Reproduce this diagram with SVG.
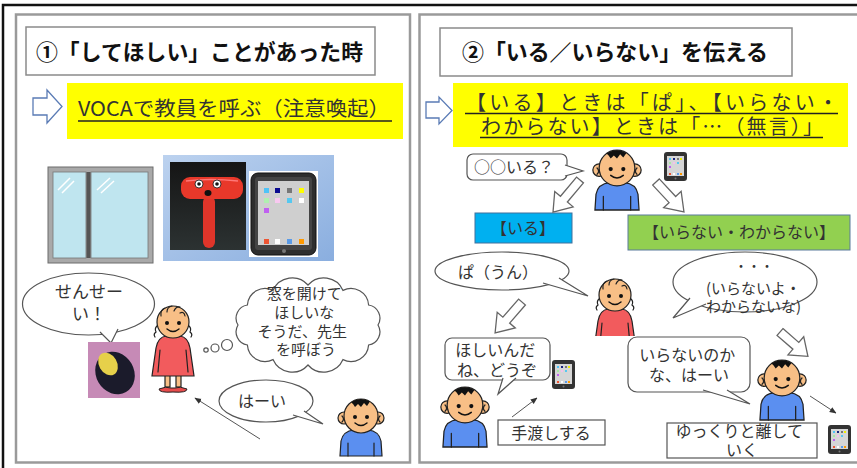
<svg xmlns="http://www.w3.org/2000/svg" xmlns:xlink="http://www.w3.org/1999/xlink" width="857" height="468" viewBox="0 0 857 468">
  <style>
    .jp { font-family: "Noto Sans CJK JP", "Noto Sans", sans-serif; fill: #333; }
    .ttl { font-family: "Noto Sans CJK JP", "Noto Sans", sans-serif; font-weight: bold; font-size: 22px; fill: #111; }
    .panel { fill: #fff; stroke: #9a9a9a; stroke-width: 2.5; }
    .titlebox { fill: #fff; stroke: #8a8a8a; stroke-width: 1.5; }
    .bubble { fill: #fff; stroke: #555; stroke-width: 1.2; }
    .hollow { fill: #fff; stroke: #666; stroke-width: 1.3; }
    .blockarrow { fill: #fff; stroke: #5a7bb5; stroke-width: 1.3; }
    .skin { fill: #f8bf86; stroke: #222; stroke-width: 1.2; }
    .ink { fill: none; stroke: #222; stroke-width: 1.2; stroke-linecap: round; }
    .thin { fill: none; stroke: #555; stroke-width: 1; }
    .uline { stroke: #222; stroke-width: 1.4; }
  </style>
  <defs>
    <marker id="tip" viewBox="0 0 10 10" refX="9" refY="5" markerWidth="7" markerHeight="7" orient="auto">
      <path d="M0,1 L10,5 L0,9 Z" fill="#333"/>
    </marker>
    <linearGradient id="bluebg" x1="0" y1="0" x2="1" y2="1">
      <stop offset="0" stop-color="#bcd2ef"/>
      <stop offset="1" stop-color="#8aaedf"/>
    </linearGradient>
    <linearGradient id="photo" x1="0" y1="0" x2="0" y2="1">
      <stop offset="0" stop-color="#151515"/>
      <stop offset="1" stop-color="#2c3232"/>
    </linearGradient>
    <clipPath id="bust"><rect x="-30" y="-30" width="60" height="71"/></clipPath>

    <!-- boy figure, origin at head centre -->
    <g id="boy">
      <path d="M-21,40 L-20,25 Q-18,15 -7,14 L7,14 Q18,15 20,25 L21,40 Z" fill="#5b8ff0" stroke="#222" stroke-width="1.2"/>
      <path class="ink" d="M-13,27 V40 M13,27 V40"/>
      <circle cx="-17" cy="2" r="6" class="skin"/>
      <circle cx="17" cy="2" r="6" class="skin"/>
      <path class="ink" d="M-19,0 Q-16,3 -19,6 M19,0 Q16,3 19,6"/>
      <circle r="17" class="skin"/>
      <path d="M-10,-13.7 A17,17 0 0 1 9,-14.4 L6,-10 L3,-13 L0,-9 L-3,-12 L-6,-9 L-8,-12 Z" fill="#111"/>
      <circle cx="-6" cy="1" r="2" fill="#111"/>
      <circle cx="6" cy="1" r="2" fill="#111"/>
      <path d="M-6,7 Q0,12 6,7" fill="none" stroke="#111" stroke-width="1.4" stroke-linecap="round"/>
    </g>

    <!-- girl head and dress, origin at head centre -->
    <g id="girl">
      <path d="M-7,14 L7,14 Q15,15 17,26 L21,54 L-21,54 L-17,26 Q-15,15 -7,14 Z" fill="#f25b5d" stroke="#222" stroke-width="1.2"/>
      <path class="ink" d="M-13,28 L-15,50 M13,28 L15,50"/>
      <path class="ink" d="M-15,3 q-4,3 -2,7 q-3,2 -1,5 M15,3 q4,3 2,7 q3,2 1,5"/>
      <circle r="16" class="skin"/>
      <path class="ink" d="M-12,-6 q-1,-6 4,-8 M-6,-10 q0,-5 5,-6 M1,-11 q2,-5 6,-4 M7,-9 q4,-2 5,3"/>
      <circle cx="-6" cy="1" r="2" fill="#111"/>
      <circle cx="6" cy="1" r="2" fill="#111"/>
      <path d="M-6,7 Q0,12 6,7" fill="none" stroke="#111" stroke-width="1.4" stroke-linecap="round"/>
    </g>

    <!-- small tablet, origin at top-left -->
    <g id="tab">
      <rect width="23" height="29" rx="3" fill="#333"/>
      <rect x="3" y="4" width="17" height="20" fill="#d6d6d6"/>
      <rect x="5" y="6" width="2" height="2" fill="#4fc3f7"/>
      <rect x="9" y="6" width="2" height="2" fill="#1a237e"/>
      <rect x="13" y="6" width="2" height="2" fill="#777"/>
      <rect x="16" y="6" width="2" height="2" fill="#ee0"/>
      <rect x="5" y="10" width="2" height="2" fill="#a5e6a5"/>
      <rect x="9" y="10" width="2" height="2" fill="#f4c0ec"/>
      <rect x="13" y="10" width="2" height="2" fill="#55c8f0"/>
      <rect x="5" y="14" width="2" height="2" fill="#c060f0"/>
      <rect x="5" y="21" width="2" height="2" fill="#e53"/>
      <rect x="9" y="21" width="2" height="2" fill="#fff"/>
      <rect x="13" y="21" width="2" height="2" fill="#5a9be8"/>
      <rect x="16" y="21" width="2" height="2" fill="#f90"/>
      <circle cx="11.5" cy="26.5" r="1" fill="#777"/>
    </g>
  </defs>

  <rect width="857" height="468" fill="#fff"/>
  <!-- outer frame -->
  <path d="M3,468 V5 H857" fill="none" stroke="#111" stroke-width="2.5"/>

  <!-- panels -->
  <rect id="panel-1" class="panel" x="16" y="14.5" width="394" height="448"/>
  <rect id="panel-2" class="panel" x="419.5" y="14.5" width="460" height="448"/>

  <!-- ===== panel 1 ===== -->
  <g id="title-1">
    <rect class="titlebox" x="26" y="27" width="349" height="48"/>
    <text class="ttl" x="36" y="60" textLength="327" lengthAdjust="spacingAndGlyphs">①「してほしい」ことがあった時</text>
  </g>

  <g id="note-1">
    <path class="blockarrow" d="M33,98 H47 V90 L62,106.5 L47,123 V115 H33 Z"/>
    <rect x="67" y="83" width="336" height="56" fill="#ffff00"/>
    <text class="jp" x="78" y="116" font-size="20" fill="#222" textLength="312" lengthAdjust="spacingAndGlyphs">VOCAで教員を呼ぶ（注意喚起）</text>
    <line class="uline" x1="78" y1="121" x2="392" y2="121"/>
  </g>

  <g id="window">
    <rect x="48" y="167" width="105" height="96" fill="#a9a9a9" stroke="#6d6d6d" stroke-width="1"/>
    <rect x="53" y="172" width="33" height="86" fill="#bfe5ef" stroke="#777" stroke-width="0.8"/>
    <rect x="91" y="172" width="57" height="86" fill="#bfe5ef" stroke="#777" stroke-width="0.8"/>
    <rect x="86.5" y="172" width="4" height="86" fill="#555"/>
    <path d="M58,190 L70,178 M62,193 L74,181 M97,190 L110,178 M101,193 L114,181" stroke="#fff" stroke-width="1.5"/>
  </g>

  <g id="devices">
    <rect x="163" y="155" width="171" height="106" fill="url(#bluebg)"/>
    <g id="hammer">
      <rect x="170" y="162" width="76" height="88" fill="url(#photo)"/>
      <rect x="203" y="196" width="12" height="52" rx="6" fill="#e0352a"/>
      <rect x="181" y="177" width="62" height="22" rx="9" fill="#e8382a"/>
      <path d="M186,181 Q210,178 238,181" stroke="#f77" stroke-width="1.5" fill="none"/>
      <circle cx="199" cy="184" r="4" fill="#fff" stroke="#111" stroke-width="0.8"/>
      <circle cx="217" cy="184" r="4" fill="#fff" stroke="#111" stroke-width="0.8"/>
      <circle cx="199" cy="184" r="1.8" fill="#111"/>
      <circle cx="217" cy="184" r="1.8" fill="#111"/>
      <ellipse cx="208" cy="193" rx="3.5" ry="3" fill="#111"/>
    </g>
    <g id="ipad">
      <rect x="249" y="171" width="69" height="86" fill="#fff"/>
      <rect x="251" y="173" width="65" height="82" rx="7" fill="#2e2e2e" stroke="#111"/>
      <rect x="255" y="177" width="57" height="73" rx="3" fill="#444"/>
      <rect x="258" y="181" width="51" height="64" fill="#cfcfcf"/>
      <circle cx="284" cy="251" r="2" fill="#777"/>
      <g>
        <rect x="264" y="188" width="5" height="5" fill="#4fc3f7"/>
        <rect x="275" y="188" width="5" height="5" fill="#0a0a90"/>
        <rect x="287" y="188" width="5" height="5" fill="#777"/>
        <rect x="299" y="188" width="5" height="5" fill="#ffff00"/>
        <rect x="264" y="198" width="5" height="5" fill="#b0f0b0"/>
        <rect x="275" y="198" width="5" height="5" fill="#f8c8f0"/>
        <rect x="287" y="198" width="5" height="5" fill="#55c8f0"/>
        <rect x="299" y="198" width="5" height="5" fill="#fff"/>
        <rect x="264" y="208" width="5" height="5" fill="#c060f0"/>
        <rect x="264" y="239" width="5" height="5" fill="#e53"/>
        <rect x="275" y="239" width="5" height="5" fill="#fff"/>
        <rect x="287" y="239" width="5" height="5" fill="#5a9be8"/>
        <rect x="299" y="239" width="5" height="5" fill="#f90"/>
      </g>
    </g>
  </g>

  <g id="bubble-sensei">
    <ellipse class="bubble" cx="88.5" cy="304" rx="66" ry="31"/>
    <path class="bubble" d="M100,332 L111,343 L118,329"/>
    <text class="jp" x="89" y="298" font-size="17" text-anchor="middle">せんせー</text>
    <text class="jp" x="89" y="320" font-size="17" text-anchor="middle">い！</text>
  </g>

  <g id="voca-button">
    <rect x="88" y="342" width="52" height="56" fill="#c68ab6"/>
    <ellipse cx="115" cy="373" rx="19" ry="22" transform="rotate(-30 115 373)" fill="#1b1b2b"/>
    <ellipse cx="108" cy="364" rx="9" ry="12" transform="rotate(-30 108 364)" fill="#e6d04a"/>
  </g>

  <g id="girl-1">
    <rect x="165" y="375" width="5" height="12" class="skin"/>
    <rect x="176" y="375" width="5" height="12" class="skin"/>
    <use xlink:href="#girl" transform="translate(173 322)"/>
    <path d="M159,389 Q166,386 171,388 L175,388 Q180,386 187,389 Q187,393 173,392 Q159,393 159,389 Z" fill="#e84c4c" stroke="#222" stroke-width="1"/>
  </g>

  <g id="thought">
    <circle cx="206" cy="350" r="2.2" class="bubble"/>
    <circle cx="215" cy="348" r="4" class="bubble"/>
    <circle cx="227" cy="345" r="5.5" class="bubble"/>
    <path class="bubble" d="M378,325 A13.3,13.3 0 0 1 368.6,345 A17.7,17.7 0 0 1 343,359.6 A21,21 0 0 1 308,365 A21,21 0 0 1 273,359.6 A17.7,17.7 0 0 1 247.4,345 A13.3,13.3 0 0 1 238,325 A13.3,13.3 0 0 1 247.4,305 A17.7,17.7 0 0 1 273,290.4 A21,21 0 0 1 308,285 A21,21 0 0 1 343,290.4 A17.7,17.7 0 0 1 368.6,305 A13.3,13.3 0 0 1 378,325 Z"/>
    <text class="jp" font-size="15" text-anchor="middle">
      <tspan x="306" y="299">窓を開けて</tspan>
      <tspan x="306" y="318">ほしいな</tspan>
      <tspan x="304" y="337">そうだ、先生</tspan>
      <tspan x="306" y="355">を呼ぼう</tspan>
    </text>
  </g>

  <g id="bubble-haai">
    <ellipse class="bubble" cx="266" cy="401" rx="47" ry="21"/>
    <path class="bubble" d="M293,415 L323,424 L304,411"/>
    <text class="jp" x="262" y="407" font-size="16" text-anchor="middle">はーい</text>
  </g>

  <g id="teacher-1">
    <use xlink:href="#boy" transform="translate(361 416)"/>
  </g>

  <!-- ===== panel 2 ===== -->
  <g id="title-2">
    <rect class="titlebox" x="440" y="28" width="352" height="48"/>
    <text class="ttl" x="462" y="60" textLength="306" lengthAdjust="spacingAndGlyphs">②「いる／いらない」を伝える</text>
  </g>

  <g id="note-2">
    <path class="blockarrow" d="M426,102 H439 V97 L452,110.5 L439,124 V118 H426 Z"/>
    <rect x="453" y="83" width="395" height="64" fill="#ffff00"/>
    <text class="jp" x="466" y="110" font-size="20" textLength="372" fill="#222">【いる】ときは「ぱ」、【いらない・</text>
    <text class="jp" x="481" y="134" font-size="20" textLength="342" fill="#222">わからない】ときは「…（無言）」</text>
    <line class="uline" x1="465" y1="113.5" x2="838" y2="113.5"/>
    <line class="uline" x1="480" y1="137.5" x2="823" y2="137.5"/>
  </g>

  <g id="bubble-iru-q">
    <rect class="bubble" x="467" y="154" width="100" height="26" rx="6"/>
    <path class="bubble" d="M565,165 L583,171 L565,176"/>
    <text class="jp" x="514" y="173" font-size="16" text-anchor="middle">○○いる？</text>
  </g>

  <g id="teacher-2">
    <use xlink:href="#boy" transform="translate(617 168) scale(1.05)"/>
  </g>
  <g id="tablet-2"><use xlink:href="#tab" x="664" y="152"/></g>

  <g id="box-iru">
    <rect x="475" y="213" width="97" height="30" fill="#00b0f0" stroke="#41719c" stroke-width="1"/>
    <text class="jp" x="523" y="234" font-size="16" text-anchor="middle" fill="#111">【いる】</text>
  </g>
  <g id="box-iranai">
    <rect x="628" y="215" width="222" height="35" fill="#92d050" stroke="#5a7a9c" stroke-width="1"/>
    <text class="jp" x="739" y="238" font-size="16" text-anchor="middle" fill="#111">【いらない・わからない】</text>
  </g>

  <g id="bubble-pa">
    <ellipse class="bubble" cx="502" cy="271" rx="67" ry="19"/>
    <path class="bubble" d="M543,283 L588,296 L559,278"/>
    <text class="jp" x="498" y="278" font-size="16" text-anchor="middle">ぱ（うん）</text>
  </g>

  <g id="child-2">
    <use xlink:href="#girl" transform="translate(615 295)" clip-path="url(#bust)"/>
  </g>

  <g id="bubble-silent">
    <ellipse class="bubble" cx="745" cy="282" rx="72" ry="30"/>
    <path class="bubble" d="M690,298 L673,318 L706,304"/>
    <text class="jp" x="754" y="271" font-size="13" text-anchor="middle">・・・</text>
    <text class="jp" x="706" y="294" font-size="15">(いらないよ・</text>
    <text class="jp" x="706" y="312" font-size="15">わからないな)</text>
  </g>

  <g id="bubble-douzo">
    <rect class="bubble" x="445" y="338" width="105" height="42" rx="7"/>
    <path class="bubble" d="M503,378 L498,394 L516,378"/>
    <text class="jp" font-size="16" text-anchor="middle">
      <tspan x="497" y="356">ほしいんだ</tspan>
      <tspan x="497" y="376">ね、どうぞ</tspan>
    </text>
  </g>
  <g id="tablet-3"><use xlink:href="#tab" x="552" y="360"/></g>
  <g id="teacher-3">
    <use xlink:href="#boy" transform="translate(465 405) scale(1.05)"/>
  </g>
  <g id="label-hand">
    <rect x="498" y="420" width="107" height="25" fill="#fff" stroke="#555" stroke-width="1.2"/>
    <text class="jp" x="551" y="439" font-size="16" text-anchor="middle">手渡しする</text>
  </g>

  <g id="bubble-haai-2">
    <rect class="bubble" x="628" y="337" width="122" height="55" rx="9"/>
    <path class="bubble" d="M703,390 L750,404 L727,390"/>
    <text class="jp" font-size="16" text-anchor="middle">
      <tspan x="689" y="361">いらないのか</tspan>
      <tspan x="689" y="381">な、はーい</tspan>
    </text>
  </g>
  <g id="teacher-4">
    <use xlink:href="#boy" transform="translate(782 378) scale(1.05)"/>
  </g>
  <g id="label-leave">
    <rect x="667" y="423" width="150" height="35" fill="#fff" stroke="#555" stroke-width="1.2"/>
    <text class="jp" font-size="16" text-anchor="middle">
      <tspan x="741" y="437">ゆっくりと離して</tspan>
      <tspan x="742" y="456">いく</tspan>
    </text>
  </g>
  <g id="tablet-4"><use xlink:href="#tab" x="828" y="425"/></g>

  <!-- connectors -->
  <g id="connectors">
    <line class="thin" x1="260" y1="439" x2="195" y2="398" marker-end="url(#tip)"/>
    <line class="thin" x1="512" y1="417" x2="537" y2="398" marker-end="url(#tip)"/>
    <line class="thin" x1="810" y1="396" x2="836" y2="413" marker-end="url(#tip)"/>
    <path class="hollow" transform="translate(580 180) rotate(130)" d="M0,-4.5 L25,-4.5 L25,-12 L42,0 L25,12 L25,4.5 L0,4.5 Z"/>
    <path class="hollow" transform="translate(656 182) rotate(47)" d="M0,-4.5 L24,-4.5 L24,-12 L41,0 L24,12 L24,4.5 L0,4.5 Z"/>
    <path class="hollow" transform="translate(522 302) rotate(131)" d="M0,-4.5 L24,-4.5 L24,-12 L41,0 L24,12 L24,4.5 L0,4.5 Z"/>
    <path class="hollow" transform="translate(780 332) rotate(41)" d="M0,-4.5 L21,-4.5 L21,-12 L37,0 L21,12 L21,4.5 L0,4.5 Z"/>
  </g>
</svg>
